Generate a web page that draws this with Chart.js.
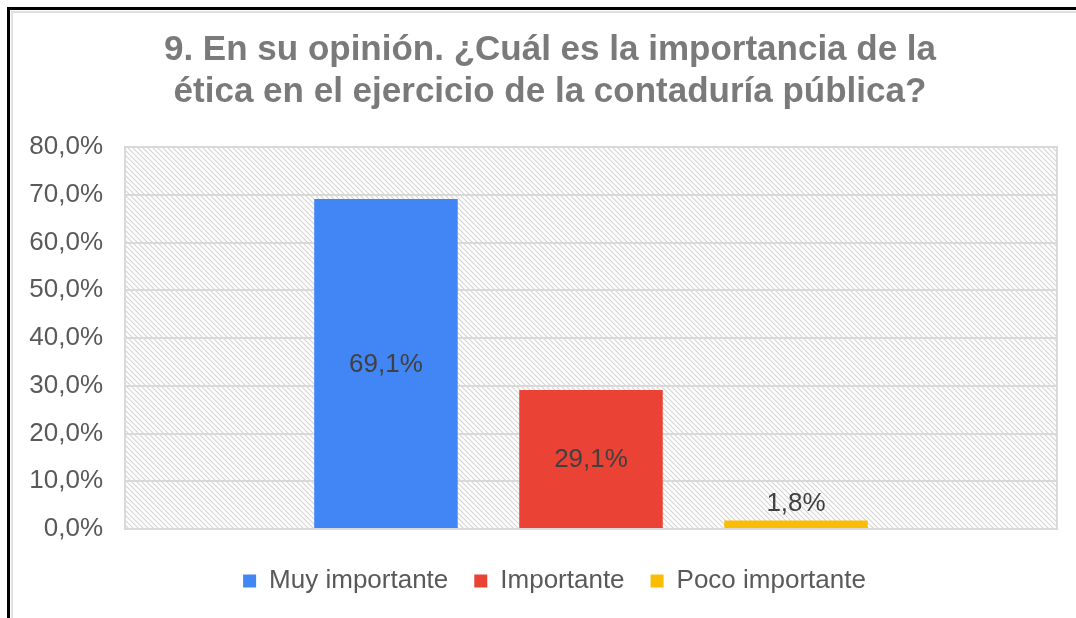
<!DOCTYPE html>
<html>
<head>
<meta charset="utf-8">
<script src="https://cdn.jsdelivr.net/npm/chart.js@4.4.1/dist/chart.umd.min.js"></script>
<style>
html,body{margin:0;padding:0;background:#fff;}
#wrap{position:relative;width:1076px;height:618px;}
</style>
</head>
<body>
<div id="wrap"><canvas id="c" width="1076" height="618"></canvas></div>
<script>
const titleLines = ['9. En su opinión. ¿Cuál es la importancia de la', 'ética en el ejercicio de la contaduría pública?'];
const categories = [''];
const seriesNames = ['Muy importante', 'Importante', 'Poco importante'];
const seriesValues = [69.1, 29.1, 1.8];
const seriesColors = ['#4285F4', '#EA4335', '#FBBC04'];
const yTicks = [0, 10, 20, 30, 40, 50, 60, 70, 80];

const FONT = '"Liberation Sans", Arial, sans-serif';
const fmt = v => v.toFixed(1).replace('.', ',') + '%';

function makeHatch(ctx) {
  const t = document.createElement('canvas');
  t.width = 5; t.height = 5;
  const g = t.getContext('2d');
  g.fillStyle = '#ffffff';
  g.fillRect(0, 0, 5, 5);
  g.strokeStyle = '#d4d4d4';
  g.lineWidth = 1.1;
  g.beginPath();
  g.moveTo(-1, -1); g.lineTo(6, 6);
  g.moveTo(-1, 4); g.lineTo(1, 6);
  g.moveTo(4, -1); g.lineTo(6, 1);
  g.stroke();
  return ctx.createPattern(t, 'repeat');
}

const decor = {
  id: 'decor',
  afterLayout(chart) {
    if (chart.titleBlock) { chart.titleBlock.left += 15.5; chart.titleBlock.right += 15.5; }
    if (chart.legend) { chart.legend.left += 20; chart.legend.right += 20; }
  },
  beforeDraw(chart) {
    const {ctx, chartArea: a} = chart;
    ctx.save();
    ctx.fillStyle = makeHatch(ctx);
    ctx.fillRect(a.left, a.top, a.right - a.left, a.bottom - a.top);
    ctx.restore();
  },
  afterDatasetsDraw(chart) {
    const {ctx, chartArea: a} = chart;
    ctx.save();
    ctx.strokeStyle = '#d9d9d9';
    ctx.lineWidth = 2;
    ctx.strokeRect(a.left, a.top, a.right - a.left, a.bottom - a.top);
    ctx.font = '26px ' + FONT;
    ctx.fillStyle = '#404040';
    ctx.textAlign = 'center';
    chart.data.datasets.forEach((ds, i) => {
      const el = chart.getDatasetMeta(i).data[0];
      const v = ds.data[0];
      const h = el.base - el.y;
      if (h > 50) {
        ctx.textBaseline = 'middle';
        ctx.fillText(fmt(v), el.x, (el.y + el.base) / 2 + 1);
      } else {
        ctx.textBaseline = 'bottom';
        ctx.fillText(fmt(v), el.x, el.y - 4);
      }
    });
    ctx.restore();
  },
  afterDraw(chart) {
    const ctx = chart.ctx;
    ctx.save();
    ctx.strokeStyle = '#e0e0e0';
    ctx.lineWidth = 2;
    ctx.beginPath();
    ctx.moveTo(12, 618); ctx.lineTo(12, 12); ctx.lineTo(1076, 12);
    ctx.stroke();
    ctx.strokeStyle = '#000';
    ctx.lineWidth = 3;
    ctx.beginPath();
    ctx.moveTo(8.5, 618); ctx.lineTo(8.5, 8.5); ctx.lineTo(1076, 8.5);
    ctx.stroke();
    ctx.restore();
  }
};

new Chart(document.getElementById('c'), {
  type: 'bar',
  data: {
    labels: categories,
    datasets: seriesNames.map((n, i) => ({
      label: n,
      data: [seriesValues[i]],
      backgroundColor: seriesColors[i],
      borderWidth: 0,
      categoryPercentage: 0.66,
      barPercentage: 0.70
    }))
  },
  options: {
    responsive: false,
    animation: false,
    devicePixelRatio: 1,
    layout: {padding: {left: 12, right: 19, top: 29, bottom: 14}},
    plugins: {
      tooltip: {enabled: false},
      title: {
        display: true,
        text: titleLines,
        color: '#7a7a7a',
        font: {family: FONT, size: 35, weight: 'bold', lineHeight: 1.2},
        padding: {top: 0, bottom: 34}
      },
      legend: {
        position: 'bottom',
        labels: {
          color: '#595959',
          font: {family: FONT, size: 26},
          boxWidth: 13,
          boxHeight: 13,
          padding: 26
        }
      }
    },
    scales: {
      x: {
        afterFit(s) { s.height = 13; },
        grid: {display: false, drawTicks: false},
        border: {display: false},
        ticks: {display: false}
      },
      y: {
        min: 0, max: 80,
        afterFit(s) { s.width = 113; },
        afterBuildTicks(s) { s.ticks = yTicks.map(v => ({value: v})); },
        grid: {color: '#d9d9d9', lineWidth: 2, drawTicks: false},
        border: {display: true, color: '#d9d9d9', width: 2},
        ticks: {
          color: '#595959',
          padding: 22,
          font: {family: FONT, size: 26},
          callback: v => fmt(v)
        }
      }
    }
  },
  plugins: [decor]
});
</script>
</body>
</html>
